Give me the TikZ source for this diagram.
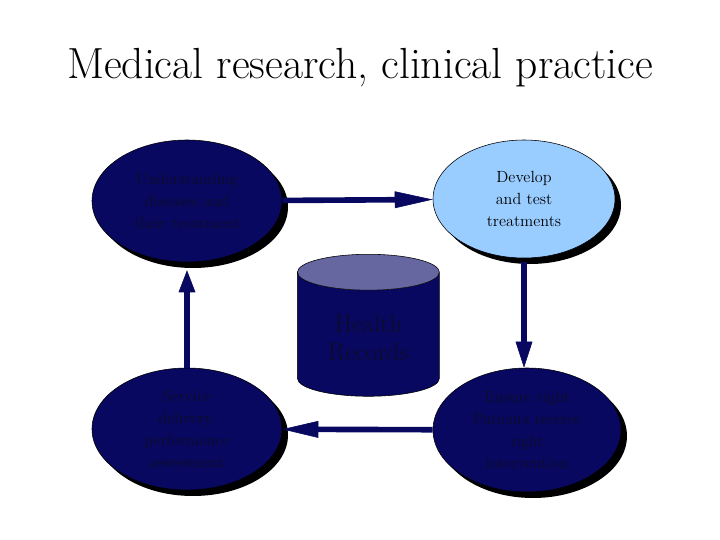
\documentclass[tikz,border=0pt]{standalone}
\usetikzlibrary{shapes.geometric,shadows,arrows.meta}

\definecolor{navy}{RGB}{8,8,96}
\definecolor{ink}{RGB}{12,12,40}
\definecolor{skyfill}{RGB}{153,204,255}
\definecolor{lidfill}{RGB}{102,102,160}

\tikzset{
  phase/.style={ellipse, draw=black, fill=navy, text=ink, align=center,
    font=\fontsize{11.5}{15.5}\selectfont, inner sep=0pt,
    drop shadow={shadow xshift=0.15cm, shadow yshift=-0.15cm, fill=black, opacity=1}},
  flow/.style={draw=navy, line width=4pt, -{Triangle[length=#1, width=0.42cm, line width=0.4pt, fill=navy]}},
  flow/.default=0.9cm
}

\begin{document}
\begin{tikzpicture}
  \useasboundingbox (0,0) rectangle (18,13.5);

  \node (title) at (9,11.8) {\fontsize{31}{35}\selectfont Medical research, clinical practice};

  % the four phases
  \node[phase, minimum width=4.75cm, minimum height=3.05cm] (ul) at (4.675,8.475)
    {Understanding\\diseases and\\their treatment};
  \node[phase, fill=skyfill, text=black, minimum width=4.55cm, minimum height=2.95cm] (ur) at (13.1,8.525)
    {Develop\\and test\\treatments};
  \node[phase, minimum width=4.75cm, minimum height=3.05cm] (ll) at (4.675,2.775)
    {Service\\delivery,\\performance\\assessment};
  \node[phase, minimum width=4.7cm, minimum height=3.1cm] (lr) at (13.175,2.75)
    {Ensure right\\Patients receive\\right\\intervention};

  % records store
  \node[cylinder, shape border rotate=90, aspect=0.4, draw=black,
        cylinder uses custom fill, cylinder body fill=navy, cylinder end fill=lidfill,
        minimum width=3.55cm, minimum height=3.55cm, text=ink, align=center,
        font=\fontsize{18}{20}\selectfont] (records) at (9.21,5.06) {Health\\Records};

  \draw[flow=0.95cm] (ul) -- (ur);
  \draw[flow=0.65cm, shorten <=0.1cm] (ur.south) -- (ur.south |- lr.north);
  \draw[flow=0.9cm] (lr) -- (ll);
  \draw[flow=0.55cm, shorten >=0.2cm] (ll.north) -- (ul.south);
\end{tikzpicture}
\end{document}
